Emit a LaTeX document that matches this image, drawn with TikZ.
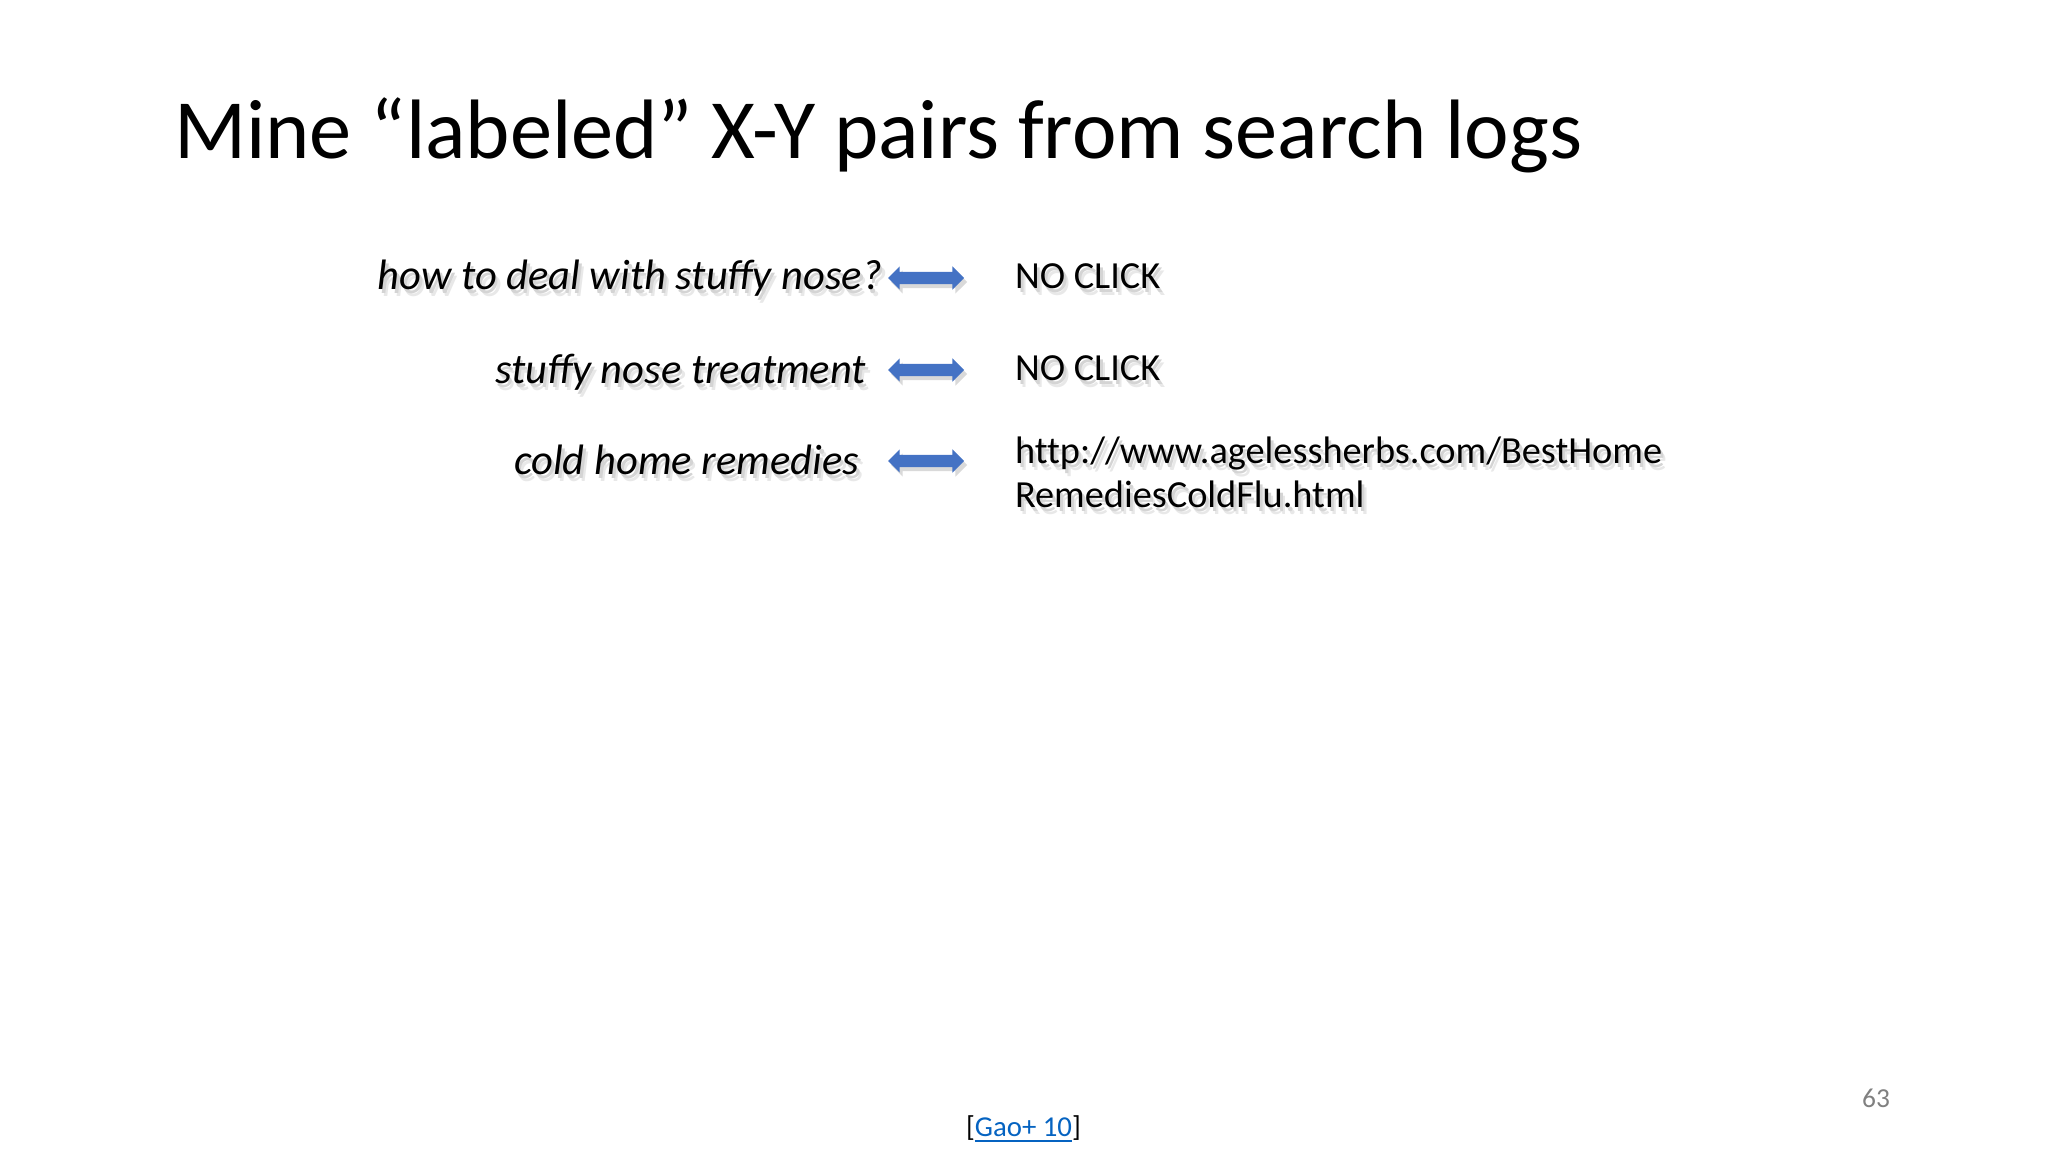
\documentclass[tikz,border=0pt]{standalone}
\usepackage{fontspec}
\setmainfont{Carlito}
\usepackage{xcolor}
\usetikzlibrary{positioning}
\usetikzlibrary{shapes.arrows,shadows}
\definecolor{arrowblue}{RGB}{68,114,196}
\definecolor{linkblue}{RGB}{5,99,193}
% soft grey shadow under the text
\newcommand{\shtxt}[1]{\rlap{\color{black!9}\raisebox{-1.8pt}{\hspace{1.4pt}#1}}\rlap{\color{black!17}\raisebox{-1.1pt}{\hspace{0.8pt}#1}}#1}

\begin{document}
\begin{tikzpicture}[every node/.style={inner sep=0pt,outer sep=0pt},
  query/.style={anchor=base east,font=\fontsize{12.1}{15}\selectfont\itshape},
  reply/.style={anchor=base west,font=\fontsize{10.9}{13}\selectfont\addfontfeature{Ligatures=NoCommon}},
  dblarrow/.style={double arrow,fill=arrowblue,minimum height=0.76cm,minimum width=0.22cm,
    double arrow head extend=0.055cm,inner sep=0.055cm,
    drop shadow={opacity=0.3,shadow xshift=0.03cm,shadow yshift=-0.04cm}}]
  \useasboundingbox (0,0) rectangle (20.48,-11.52);
  \node[anchor=base west,font=\fontsize{24}{29}\selectfont] (title) at (1.74,-1.59) {Mine “labeled” X-Y pairs from search logs};
   \node[query] (q1) at (8.82,-2.90) {\shtxt{how to deal with stuffy nose?}};
   \node[query] (q2) at (8.66,-3.84) {\shtxt{stuffy nose treatment}};
   \node[query] (q3) at (8.59,-4.75) {\shtxt{cold home remedies}};
    \node[dblarrow] (a1) at (9.26,-2.78) {};
    \node[dblarrow] (a2) at (9.26,-3.70) {};
    \node[dblarrow] (a3) at (9.26,-4.61) {};
   \node[reply] (r1) at (10.15,-2.89) {\shtxt{NO CLICK}};
   \node[reply] (r2) at (10.15,-3.81) {\shtxt{NO CLICK}};
   \node[reply] (r3) at (10.15,-4.64) {\shtxt{http://www.agelessherbs.com/BestHome}};
   \node[reply] (r3b) at (10.15,-5.08) {\shtxt{RemediesColdFlu.html}};
  \node[anchor=base west,font=\fontsize{8.2}{10}\selectfont] (ref) at (9.66,-11.36) {[\textcolor{linkblue}{\underline{Gao+ 10}}]};
  \node[anchor=base east,font=\fontsize{7.8}{9}\selectfont,text=black!50] (page) at (18.90,-11.07) {63};
 \end{tikzpicture}
\end{document}
